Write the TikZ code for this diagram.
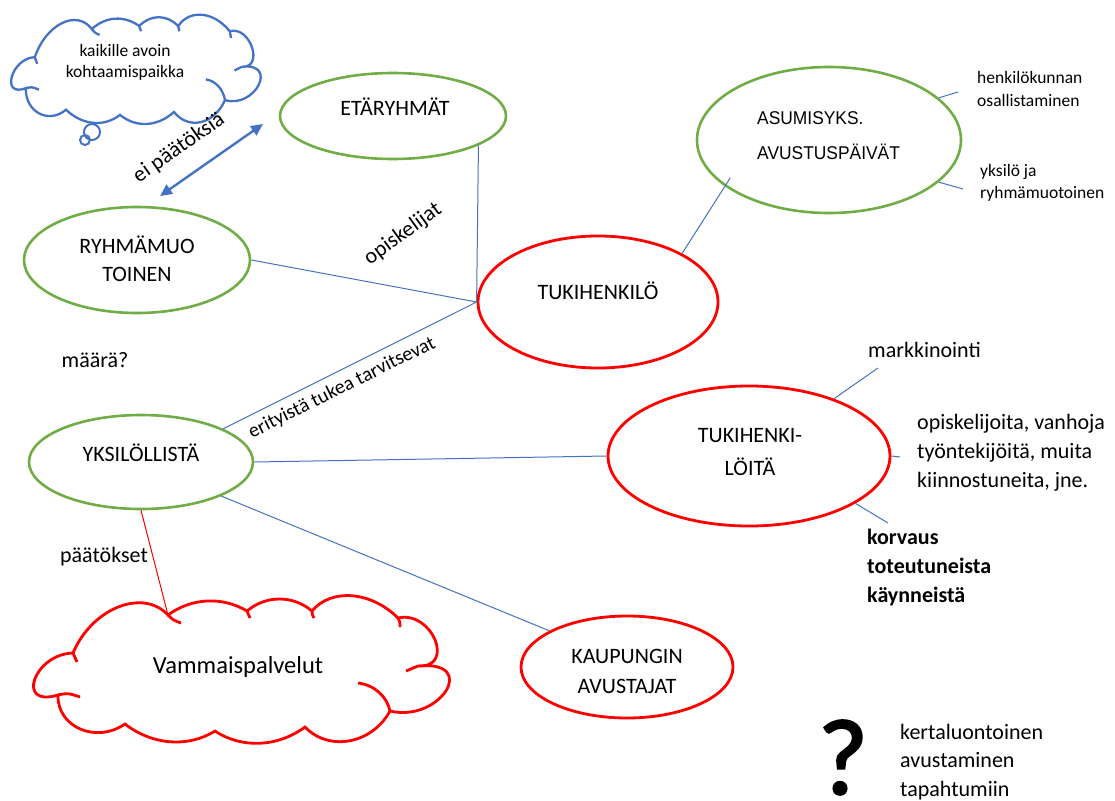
\documentclass[tikz,border=0pt]{standalone}
\usepackage{fontspec}
\setmainfont{Carlito}
\newfontfamily\arialfont[FakeStretch=0.94]{Liberation Sans}
\newfontfamily\qfont[FakeBold=2]{Carlito}
\usetikzlibrary{shapes.geometric,arrows.meta,calc}
\definecolor{grn}{HTML}{70AD47}
\definecolor{blu}{HTML}{4472C4}
\definecolor{rd}{HTML}{FF0000}

\tikzset{
  greenell/.style={ellipse, draw=grn, line width=2.6pt, inner sep=0pt},
  redell/.style={ellipse, draw=rd, line width=2.8pt, inner sep=0pt},
  conn/.style={draw=blu, line width=1pt},
  redconn/.style={draw=rd, line width=1pt},
  lbl/.style={inner sep=0pt, font=\fontsize{22}{26}\selectfont},
  small/.style={inner sep=0pt, align=left, font=\fontsize{17.5}{23.5}\selectfont},
  % Office-style cloud outline, drawn around its own centre
  pics/wordcloud/.style={code={
    \draw[pic actions]
      (-167,-16) coordinate (-j1)
      .. controls +(19,-45) and +(-25,-27) .. (-72,-54) coordinate (-j2)
      .. controls +(23,-17) and +(-25,-15) .. (7,-58) coordinate (-j3)
      .. controls +(19,-16) and +(-19,-16) .. (72,-58) coordinate (-j4)
      .. controls +(19,-23) and +(-27,-27) .. (158,-51) coordinate (-j5)
      .. controls +(34,-8) and +(38,2) .. (178,-3) coordinate (-j6)
      .. controls +(62,-6) and +(50,12) .. (150,42) coordinate (-j7)
      .. controls +(-18,33) and +(24,25) .. (65,58) coordinate (-j8)
      .. controls +(-27,20) and +(27,18) .. (-25,62) coordinate (-j9)
      .. controls +(-27,17) and +(27,21) .. (-115,55) coordinate (-j10)
      .. controls +(-29,20) and +(-1,32) .. (-182,26) coordinate (-j11)
      .. controls +(-43,13) and +(-39,1) .. (-167,-16) -- cycle;
    % inner creases
    \draw[pic actions] (-167,-16) .. controls (-165,-12) .. (-163,-7);
    \draw[pic actions] (-72,-54) .. controls (-67,-49) .. (-59,-46);
    \draw[pic actions] (7,-58) .. controls (8,-55) .. (10,-51);
    \draw[pic actions] (72,-58) .. controls (72,-55) .. (74,-51);
    \draw[pic actions] (158,-51) .. controls (160,-47) .. (160,-42);
    \draw[pic actions] (178,-3) .. controls (172,0) .. (166,2);
    \draw[pic actions] (118,14) .. controls (135,16) and (147,28) .. (150,42);
    \draw[pic actions] (-182,26) .. controls (-172,24) .. (-160,28);
  }}
}

\begin{document}
\begin{tikzpicture}[x=1pt,y=-1pt]
\useasboundingbox (0,0) rectangle (1115,800);

% clouds
\pic[draw=blu, line width=2.3pt, xscale=0.6, yscale=0.74] (top) at (135,69) {wordcloud};
\draw[blu, line width=2pt] (92,132) circle[radius=8];
\draw[blu, line width=2pt] (85,140) circle[radius=5];
\node[inner sep=0pt, align=center, font=\fontsize{17.5}{21}\selectfont] (meet) at (125,62) {kaikille avoin\\kohtaamispaikka};

\pic[draw=rd, line width=2.8pt] (vam) at (240,669) {wordcloud};
\node[inner sep=0pt, anchor=base, font=\fontsize{24.5}{29}\selectfont] (vamT) at (238,673) {Vammaispalvelut};

% ellipses
\node[greenell, minimum width=226, minimum height=86] (eta) at (393,116) {};
\node[greenell, minimum width=226, minimum height=106] (ryh) at (137,260) {};
\node[greenell, minimum width=264, minimum height=146] (asu) at (829,140) {};
\node[greenell, minimum width=224, minimum height=94] (yks) at (141,462) {};
\node[redell, minimum width=240, minimum height=132] (tuk) at (598,302) {};
\node[redell, minimum width=282, minimum height=140] (tukis) at (749,456) {};
\node[redell, minimum width=212, minimum height=102] (kau) at (627,667) {};

% ellipse texts
\node[lbl, anchor=base] (etaT) at (395,115) {ETÄRYHMÄT};
\node[lbl, align=center, font=\fontsize{22}{28}\selectfont] (ryhT) at (137,259) {RYHMÄMUO\\TOINEN};
\node[inner sep=0pt, anchor=west, align=left, font=\arialfont\fontsize{18.5}{35}\selectfont] (asuT) at (757,136) {ASUMISYKS.\\AVUSTUSPÄIVÄT};
\node[lbl, anchor=base] (yksT) at (141,461) {YKSILÖLLISTÄ};
\node[lbl, anchor=base] (tukT) at (598,299) {TUKIHENKILÖ};
\node[lbl, align=center, font=\fontsize{22}{33}\selectfont] (tukisT) at (750,452) {TUKIHENKI-\\LÖITÄ};
\node[lbl, align=center, font=\fontsize{22}{30}\selectfont] (kauT) at (627,671) {KAUPUNGIN\\AVUSTAJAT};

% free texts
\node[small, anchor=west] (henk) at (977,89) {henkilökunnan\\osallistaminen};
\node[small, anchor=west, font=\fontsize{17.5}{22}\selectfont] (yksi) at (980,183) {yksilö ja\\ryhmämuotoinen};
\node[lbl, anchor=base west] (mark) at (868,357) {markkinointi};
\node[lbl, anchor=west, align=left, font=\fontsize{22}{29}\selectfont] (opis) at (917,453) {opiskelijoita, vanhoja\\työntekijöitä, muita\\kiinnostuneita, jne.};
\node[lbl, anchor=west, align=left, font=\bfseries\fontsize{22}{29}\selectfont] (korv) at (867,568) {korvaus\\toteutuneista\\käynneistä};
\node[lbl, anchor=west, align=left, font=\fontsize{22}{28.5}\selectfont] (kert) at (900,762) {kertaluontoinen\\avustaminen\\tapahtumiin};
\node[inner sep=0pt, anchor=base, font=\qfont\fontsize{108}{110}\selectfont] (qm) at (843,794) {?};
\node[lbl, anchor=base] (maara) at (95,367) {määrä?};
\node[lbl, anchor=base] (paat) at (104,562) {päätökset};
\node[lbl, rotate=35] (eipa) at (179,148) {ei päätöksiä};
\node[lbl, rotate=36] (opk) at (403,234) {opiskelijat};
\node[lbl, rotate=26.4, font=\fontsize{20}{24}\selectfont] (erit) at (342,388) {erityistä tukea tarvitsevat};

% double arrow
\coordinate (arrA) at (160,196);
\coordinate (arrB) at (263,124);
\draw[blu, line width=2.4pt, {Triangle[length=12pt,width=11pt]}-{Triangle[length=12pt,width=11pt]}] (arrA) -- (arrB);

% connectors
\draw[conn] (eta.-19.5) -- (tuk.west);
\draw[conn] (ryh.east) -- (tuk.west);
\draw[conn] (yks.22) -- (tuk.west);
\draw[conn] (yks.east) -- (tukis.west);
\draw[conn] (yks.-23) -- (kau.155);
\draw[redconn] (yks.south) -- (vam-j2);
\draw[conn] (tuk.30) -- ($(asu.center)!0.9!(asu.201)$);

\coordinate (hk1) at (958,92);
\coordinate (hk2) at (963,189);
\coordinate (mk) at (878,368);
\coordinate (op) at (900,457);
\coordinate (kv) at (888,523);
\draw[conn] (asu.21) -- (hk1);
\draw[conn] (asu.-21) -- (hk2);
\draw[conn] (tukis.34) -- (mk);
\draw[conn] (tukis.east) -- (op);
\draw[conn] (tukis.-24) -- (kv);
\end{tikzpicture}
\end{document}
